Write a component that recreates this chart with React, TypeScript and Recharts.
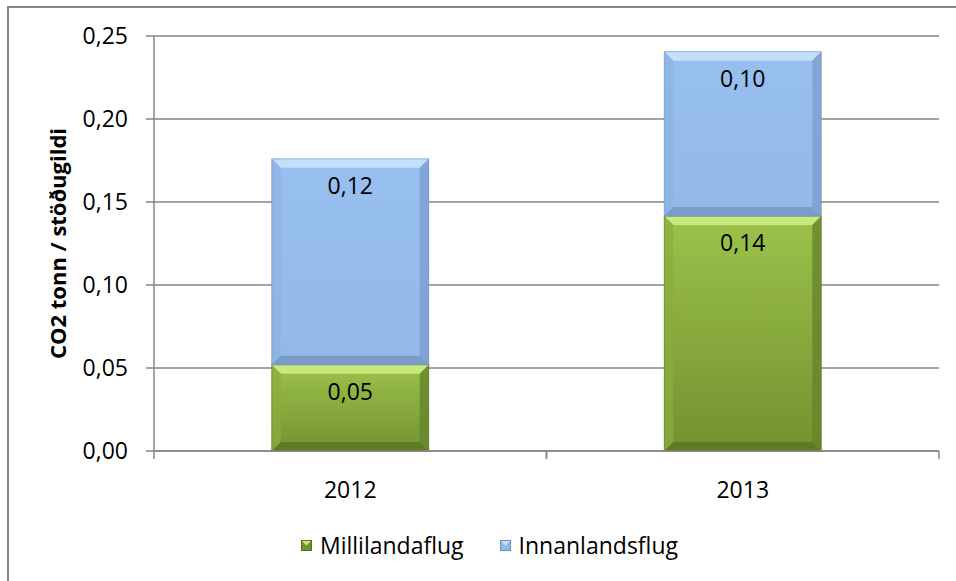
import { BarChart, Bar, XAxis, YAxis, CartesianGrid, Legend, LabelList } from "recharts";

const years = ["2012", "2013"];
const millilandaflug = [0.052, 0.1415];
const innanlandsflug = [0.124, 0.099];
const yTicks = [0, 0.05, 0.1, 0.15, 0.2, 0.25];
const seriesNames = ["Millilandaflug", "Innanlandsflug"];
const yTitle = "CO2 tonn / stöðugildi";

const data = years.map((year, i) => ({
  year,
  milli: millilandaflug[i],
  innan: innanlandsflug[i],
}));

const FONT = "'Open Sans', 'Liberation Sans', sans-serif";
const AXIS = "#868686";
const FS = 23;

interface Palette {
  id: string;
  top: string;
  bottom: string;
  bevelTop: string;
  bevelBottom: string;
  bevelLeft: string;
  bevelRight: string;
  edge: string;
}

const green: Palette = {
  id: "gMilli",
  top: "#9cc24b",
  bottom: "#739230",
  bevelTop: "#c8ea7c",
  bevelBottom: "#5e7a25",
  bevelLeft: "#8aad3e",
  bevelRight: "#67842a",
  edge: "#55701f",
};

const blue: Palette = {
  id: "gInnan",
  top: "#97bfef",
  bottom: "#92b9ea",
  bevelTop: "#c4dffb",
  bevelBottom: "#7b9bcb",
  bevelLeft: "#8cb2e3",
  bevelRight: "#7d9fd0",
  edge: "#6d8dbd",
};

const fmt = (v: number) => v.toFixed(2).replace(".", ",");

function bevelShape(p: Palette) {
  return (props: any) => {
    const { x, y, width: w, height: h } = props;
    if (!h || h <= 0) return <g />;
    const b = Math.min(9, h / 2, w / 2);
    return (
      <g>
        <rect x={x} y={y} width={w} height={h} fill={`url(#${p.id})`} />
        <polygon
          points={`${x},${y} ${x + w},${y} ${x + w - b},${y + b} ${x + b},${y + b}`}
          fill={p.bevelTop}
        />
        <polygon
          points={`${x},${y + h} ${x + w},${y + h} ${x + w - b},${y + h - b} ${x + b},${y + h - b}`}
          fill={p.bevelBottom}
        />
        <polygon
          points={`${x},${y} ${x + b},${y + b} ${x + b},${y + h - b} ${x},${y + h}`}
          fill={p.bevelLeft}
          opacity={0.7}
        />
        <polygon
          points={`${x + w},${y} ${x + w - b},${y + b} ${x + w - b},${y + h - b} ${x + w},${y + h}`}
          fill={p.bevelRight}
          opacity={0.8}
        />
        <rect x={x} y={y} width={w} height={h} fill="none" stroke={p.edge} strokeWidth={1} opacity={0.6} />
      </g>
    );
  };
}

function YearTick(props: any) {
  const { x, y, payload } = props;
  const half = payload?.offset ?? 0;
  return (
    <g>
      <line x1={x - half} x2={x - half} y1={y} y2={y + 8} stroke={AXIS} strokeWidth={1.5} />
      <line x1={x + half} x2={x + half} y1={y} y2={y + 8} stroke={AXIS} strokeWidth={1.5} />
      <text x={x} y={y + 47} textAnchor="middle" fontFamily={FONT} fontSize={FS} fill="#000">
        {payload.value}
      </text>
    </g>
  );
}

function YTitle(props: any) {
  const vb = props.viewBox || { y: 36, height: 415 };
  const cy = vb.y + vb.height / 2;
  const cx = 66;
  return (
    <text
      x={cx}
      y={cy}
      transform={`rotate(-90 ${cx} ${cy})`}
      textAnchor="middle"
      fontFamily={FONT}
      fontWeight="bold"
      fontSize={22}
      fill="#000"
    >
      {yTitle}
    </text>
  );
}

function LegendIcon({ p }: { p: Palette }) {
  return (
    <svg width={11} height={11} style={{ marginRight: 8 }}>
      <rect x={0} y={0} width={11} height={11} fill={p.bottom} />
      <polygon points="0,0 11,0 5.5,5.5" fill={p.bevelTop} />
      <rect x={0.5} y={0.5} width={10} height={10} fill="none" stroke={p.edge} />
    </svg>
  );
}

const renderLegend = () => (
  <div
    style={{
      display: "flex",
      alignItems: "center",
      fontFamily: FONT,
      fontSize: FS,
      color: "#000",
      whiteSpace: "nowrap",
      height: 30,
    }}
  >
    <LegendIcon p={green} />
    <span style={{ marginRight: 36 }}>{seriesNames[0]}</span>
    <LegendIcon p={blue} />
    <span>{seriesNames[1]}</span>
  </div>
);

export default function App() {
  return (
    <div style={{ position: "absolute", left: 0, top: 0, width: 956, height: 581, background: "#fff" }}>
      <div
        style={{
          position: "absolute",
          left: 7,
          top: 6,
          width: 949,
          height: 575,
          borderTop: `2px solid ${AXIS}`,
          borderLeft: `2px solid ${AXIS}`,
          boxSizing: "border-box",
        }}
      />
      <BarChart
        width={956}
        height={581}
        data={data}
        margin={{ top: 36, right: 17, bottom: 0, left: 0 }}
        barCategoryGap="30%"
        style={{ position: "absolute", left: 0, top: 0 }}
      >
        <defs>
          {[green, blue].map((p) => (
            <linearGradient key={p.id} id={p.id} x1="0" y1="0" x2="0" y2="1">
              <stop offset="0%" stopColor={p.top} />
              <stop offset="100%" stopColor={p.bottom} />
            </linearGradient>
          ))}
        </defs>
        <CartesianGrid vertical={false} stroke={AXIS} strokeWidth={1.5} />
        <XAxis
          dataKey="year"
          height={100}
          tickLine={false}
          tickSize={0}
          tickMargin={0}
          axisLine={{ stroke: AXIS, strokeWidth: 1.5 }}
          tick={<YearTick />}
        />
        <YAxis
          width={154}
          domain={[0, 0.25]}
          ticks={yTicks}
          interval={0}
          tickFormatter={fmt}
          tickSize={8}
          tickMargin={18}
          axisLine={{ stroke: AXIS, strokeWidth: 1.5 }}
          tickLine={{ stroke: AXIS, strokeWidth: 1.5 }}
          tick={{ fill: "#000", fontSize: FS, fontFamily: FONT }}
          label={<YTitle />}
        />
        <Legend
          verticalAlign="bottom"
          content={renderLegend}
          wrapperStyle={{ left: 301, top: 530, width: 440, height: 30 }}
        />
        <Bar dataKey="milli" name={seriesNames[0]} stackId="a" shape={bevelShape(green)} isAnimationActive={false}>
          <LabelList
            dataKey="milli"
            position="insideTop"
            offset={19}
            formatter={(v: any) => fmt(Number(v))}
            style={{ fill: "#000", fontSize: FS, fontFamily: FONT }}
          />
        </Bar>
        <Bar dataKey="innan" name={seriesNames[1]} stackId="a" shape={bevelShape(blue)} isAnimationActive={false}>
          <LabelList
            dataKey="innan"
            position="insideTop"
            offset={19}
            formatter={(v: any) => fmt(Number(v))}
            style={{ fill: "#000", fontSize: FS, fontFamily: FONT }}
          />
        </Bar>
      </BarChart>
    </div>
  );
}
